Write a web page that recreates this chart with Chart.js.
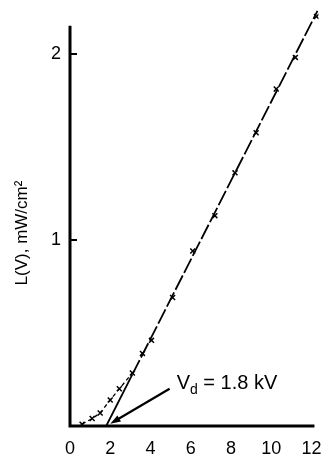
<!DOCTYPE html>
<html>
<head>
<meta charset="utf-8">
<script src="https://cdn.jsdelivr.net/npm/chart.js@4"></script>
<style>
  html, body { margin: 0; padding: 0; background: #fff; }
  canvas { display: block; }
</style>
</head>
<body>
<canvas id="graph" width="324" height="454"></canvas>
<script>
// measured points: voltage (kV) vs L(V) (mW/cm2)
const voltage = [0.6, 1.1, 1.5, 2.0, 2.45, 3.1, 3.6, 4.05, 5.1, 6.1, 7.2, 8.2, 9.25, 10.25, 11.2, 12.25];
const intensity = [0.01, 0.04, 0.07, 0.14, 0.2, 0.285, 0.39, 0.46, 0.69, 0.94, 1.13, 1.36, 1.575, 1.81, 1.98, 2.2];

// straight fit, extrapolated down to the threshold
const fitVoltage = [1.8, 3.1, 12.3];
const fitIntensity = [0, 0.277, 2.23];

const xTicks = [0, 2, 4, 6, 8, 10, 12];
const yTicks = [1, 2];
const xAxisEnd = 12.15;
const yAxisEnd = 2.15;

const yTitle = 'L(V), mW/cm²';
const thresholdLabel = ['V', 'd', ' = 1.8 kV'];
const arrowFrom = [4.95, 0.2];
const arrowTo = [2.0, 0.012];
const labelAt = [5.3, 0.2];

const family = '"Liberation Sans", Arial, sans-serif';
Chart.defaults.font.family = family;
Chart.defaults.color = '#000';

const toPoints = (xs, ys) => xs.map((v, i) => ({ x: v, y: ys[i] }));

// axis lines (shorter than the plot area so the last point can sit past them)
const axes = {
    id: 'axes',
    beforeDatasetsDraw(chart) {
        const { ctx, scales: { x, y } } = chart;
        const x0 = x.getPixelForValue(0), y0 = y.getPixelForValue(0);
        ctx.save();
        ctx.strokeStyle = '#000';
        ctx.lineWidth = 3;
        ctx.beginPath();
        ctx.moveTo(x0, y.getPixelForValue(yAxisEnd));
        ctx.lineTo(x0, y0 + 1.5);
        ctx.moveTo(x0 - 1.5, y0);
        ctx.lineTo(x.getPixelForValue(xAxisEnd), y0);
        ctx.stroke();

        // inward ticks on the y axis
        ctx.lineWidth = 2;
        yTicks.forEach(v => {
            const py = Math.round(y.getPixelForValue(v));
            ctx.beginPath();
            ctx.moveTo(x0, py);
            ctx.lineTo(x0 + 7, py);
            ctx.stroke();
        });
        ctx.restore();
    }
};

// y title, the arrow and the V_d label
const extras = {
    id: 'extras',
    afterDraw(chart) {
        const { ctx, scales: { x, y } } = chart;
        ctx.save();
        ctx.strokeStyle = '#000';
        ctx.fillStyle = '#000';

        ctx.save();
        ctx.translate(22, 233);
        ctx.rotate(-Math.PI / 2);
        ctx.font = '17px ' + family;
        ctx.textAlign = 'center';
        ctx.textBaseline = 'middle';
        ctx.fillText(yTitle, 0, 0);
        ctx.restore();

        const x0 = x.getPixelForValue(arrowFrom[0]), y0 = y.getPixelForValue(arrowFrom[1]);
        const x1 = x.getPixelForValue(arrowTo[0]), y1 = y.getPixelForValue(arrowTo[1]);
        const a = Math.atan2(y1 - y0, x1 - x0);
        const head = 11;
        ctx.lineWidth = 2.2;
        ctx.beginPath();
        ctx.moveTo(x0, y0);
        ctx.lineTo(x1 - Math.cos(a) * head * 0.8, y1 - Math.sin(a) * head * 0.8);
        ctx.stroke();
        ctx.beginPath();
        ctx.moveTo(x1, y1);
        ctx.lineTo(x1 - head * Math.cos(a - 0.33), y1 - head * Math.sin(a - 0.33));
        ctx.lineTo(x1 - head * Math.cos(a + 0.33), y1 - head * Math.sin(a + 0.33));
        ctx.closePath();
        ctx.fill();

        let lx = x.getPixelForValue(labelAt[0]);
        const ly = y.getPixelForValue(labelAt[1]);
        ctx.textBaseline = 'alphabetic';
        ctx.font = '20px ' + family;
        ctx.fillText(thresholdLabel[0], lx, ly);
        lx += ctx.measureText(thresholdLabel[0]).width;
        ctx.font = '14px ' + family;
        ctx.fillText(thresholdLabel[1], lx, ly + 5);
        lx += ctx.measureText(thresholdLabel[1]).width;
        ctx.font = '20px ' + family;
        ctx.fillText(thresholdLabel[2], lx, ly);
        ctx.restore();
    }
};

new Chart(document.getElementById('graph'), {
    type: 'line',
    data: {
        datasets: [
            {
                data: toPoints(voltage, intensity),
                borderColor: '#000',
                borderWidth: 1.3,
                borderDash: [4, 3],
                pointStyle: 'crossRot',
                pointRadius: 3.5,
                pointBorderWidth: 1.5,
                pointBorderColor: '#000',
                segment: {
                    borderColor: c => c.p0.parsed.x < 3 ? '#000' : 'transparent'
                }
            },
            {
                data: toPoints(fitVoltage, fitIntensity),
                borderColor: '#000',
                borderWidth: 1.8,
                pointRadius: 0,
                segment: {
                    borderDash: c => c.p0DataIndex === 0 ? [] : [16, 3]
                }
            }
        ]
    },
    options: {
        responsive: false,
        animation: false,
        events: [],
        layout: { padding: { top: 9, right: 5, left: 0, bottom: 0 } },
        plugins: { legend: { display: false }, tooltip: { enabled: false } },
        scales: {
            x: {
                type: 'linear',
                min: 0,
                max: 12.35,
                afterFit: s => { s.height = 28; s.paddingLeft = 0; s.paddingRight = 0; },
                afterBuildTicks: s => { s.ticks = xTicks.map(v => ({ value: v })); },
                grid: { display: false, drawTicks: false },
                border: { display: false },
                ticks: { color: '#000', font: { size: 18 }, padding: 12, maxRotation: 0, autoSkip: false }
            },
            y: {
                type: 'linear',
                min: 0,
                max: 2.24,
                afterFit: s => { s.width = 70; s.paddingTop = 0; s.paddingBottom = 0; },
                afterBuildTicks: s => { s.ticks = yTicks.map(v => ({ value: v })); },
                grid: { display: false, drawTicks: false },
                border: { display: false },
                ticks: { color: '#000', font: { size: 18 }, padding: 9 }
            }
        }
    },
    plugins: [axes, extras]
});
</script>
</body>
</html>
